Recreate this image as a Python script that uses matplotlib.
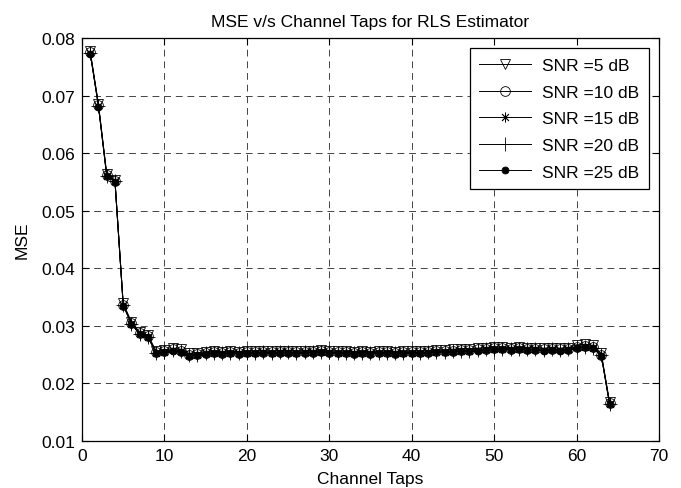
import matplotlib
matplotlib.use("Agg")
import matplotlib.pyplot as plt

plt.rcParams['font.family'] = ['Liberation Sans', 'DejaVu Sans']

taps = list(range(1, 65))

snr5 = [0.0777, 0.0685, 0.0564, 0.0553, 0.0339, 0.0307, 0.0289, 0.0284, 0.0256, 0.0258,
        0.0261, 0.0259, 0.0252, 0.0253, 0.0255, 0.0256, 0.0255, 0.0256, 0.0255, 0.0256,
        0.0256, 0.0257, 0.0256, 0.0257, 0.0257, 0.0256, 0.0257, 0.0257, 0.0258, 0.0257,
        0.0256, 0.0256, 0.0255, 0.0256, 0.0255, 0.0256, 0.0256, 0.0255, 0.0256, 0.0256,
        0.0256, 0.0257, 0.0258, 0.0258, 0.0259, 0.0260, 0.0260, 0.0261, 0.0262, 0.0263,
        0.0263, 0.0262, 0.0263, 0.0262, 0.0262, 0.0261, 0.0262, 0.0261, 0.0262, 0.0267,
        0.0268, 0.0266, 0.0252, 0.0168]
snr10 = [0.0775, 0.0683, 0.0562, 0.0552, 0.0337, 0.0305, 0.0287, 0.0282, 0.0254, 0.0256,
         0.0259, 0.0257, 0.0250, 0.0251, 0.0253, 0.0254, 0.0253, 0.0254, 0.0253, 0.0254,
         0.0254, 0.0255, 0.0254, 0.0255, 0.0255, 0.0254, 0.0255, 0.0255, 0.0256, 0.0255,
         0.0254, 0.0254, 0.0253, 0.0254, 0.0253, 0.0254, 0.0254, 0.0253, 0.0254, 0.0254,
         0.0254, 0.0255, 0.0256, 0.0256, 0.0257, 0.0258, 0.0258, 0.0259, 0.0260, 0.0261,
         0.0261, 0.0260, 0.0261, 0.0260, 0.0260, 0.0259, 0.0260, 0.0259, 0.0260, 0.0264,
         0.0265, 0.0263, 0.0250, 0.0166]
snr15 = [0.0774, 0.0682, 0.0561, 0.0551, 0.0336, 0.0304, 0.0286, 0.0281, 0.0253, 0.0255,
         0.0258, 0.0256, 0.0249, 0.0250, 0.0252, 0.0253, 0.0252, 0.0253, 0.0252, 0.0253,
         0.0253, 0.0254, 0.0253, 0.0254, 0.0254, 0.0253, 0.0254, 0.0254, 0.0255, 0.0254,
         0.0253, 0.0253, 0.0252, 0.0253, 0.0252, 0.0253, 0.0253, 0.0252, 0.0253, 0.0253,
         0.0253, 0.0254, 0.0255, 0.0255, 0.0256, 0.0257, 0.0257, 0.0258, 0.0259, 0.0260,
         0.0260, 0.0259, 0.0260, 0.0259, 0.0259, 0.0258, 0.0259, 0.0258, 0.0259, 0.0263,
         0.0264, 0.0262, 0.0249, 0.0165]
snr20 = [0.0774, 0.0682, 0.0561, 0.0551, 0.0336, 0.0304, 0.0286, 0.0281, 0.0253, 0.0255,
         0.0258, 0.0256, 0.0249, 0.0250, 0.0252, 0.0253, 0.0252, 0.0253, 0.0252, 0.0253,
         0.0253, 0.0254, 0.0253, 0.0254, 0.0254, 0.0253, 0.0254, 0.0254, 0.0255, 0.0254,
         0.0253, 0.0253, 0.0252, 0.0253, 0.0252, 0.0253, 0.0253, 0.0252, 0.0253, 0.0253,
         0.0253, 0.0254, 0.0255, 0.0255, 0.0256, 0.0257, 0.0257, 0.0258, 0.0259, 0.0260,
         0.0260, 0.0259, 0.0260, 0.0259, 0.0259, 0.0258, 0.0259, 0.0258, 0.0259, 0.0263,
         0.0264, 0.0262, 0.0249, 0.0165]
snr25 = [0.0773, 0.0681, 0.0560, 0.0550, 0.0335, 0.0303, 0.0285, 0.0280, 0.0252, 0.0254,
         0.0257, 0.0255, 0.0248, 0.0249, 0.0251, 0.0252, 0.0251, 0.0252, 0.0251, 0.0252,
         0.0252, 0.0253, 0.0252, 0.0253, 0.0253, 0.0252, 0.0253, 0.0253, 0.0254, 0.0253,
         0.0252, 0.0252, 0.0251, 0.0252, 0.0251, 0.0252, 0.0252, 0.0251, 0.0252, 0.0252,
         0.0252, 0.0253, 0.0254, 0.0254, 0.0255, 0.0256, 0.0256, 0.0257, 0.0258, 0.0259,
         0.0259, 0.0258, 0.0259, 0.0258, 0.0258, 0.0257, 0.0258, 0.0257, 0.0258, 0.0262,
         0.0263, 0.0261, 0.0248, 0.0164]

series = [snr5, snr10, snr15, snr20, snr25]
labels = ['SNR =5 dB', 'SNR =10 dB', 'SNR =15 dB', 'SNR =20 dB', 'SNR =25 dB']
markers = ['v', 'o', (8, 2, 0), '+', '.']
mfcs = ['none', 'none', 'black', 'black', 'black']
msizes = [7, 7, 7, 10, 10]

fig = plt.figure(figsize=(6.81, 4.89), dpi=100)
ax = fig.add_axes([82/681, 1 - 442/489, (659-82)/681, (442-39)/489])

for y, lab, m, fc, ms in zip(series, labels, markers, mfcs, msizes):
    ax.plot(taps, y, color='black', lw=0.7, marker=m, markersize=ms,
            markerfacecolor=fc, markeredgecolor='black', markeredgewidth=0.6,
            label=lab)

ax.set_xlim(0, 70)
ax.set_ylim(0.01, 0.08)
ax.set_xticks(range(0, 71, 10))
ax.set_yticks([0.01, 0.02, 0.03, 0.04, 0.05, 0.06, 0.07, 0.08])
ax.set_yticklabels(['0.01', '0.02', '0.03', '0.04', '0.05', '0.06', '0.07', '0.08'])
ax.grid(True, color='#444444', linestyle=(0, (7, 5)), linewidth=0.7)
ax.tick_params(direction='in', top=True, right=True, length=5, width=0.8,
               labelsize=12.5, colors='black', pad=5)
for s in ax.spines.values():
    s.set_linewidth(0.9)

ax.set_title('MSE v/s Channel Taps for RLS Estimator', fontsize=12.5, pad=9)
ax.set_xlabel('Channel Taps', fontsize=12.5, labelpad=6)
ax.set_ylabel('MSE', fontsize=12.5, labelpad=8)

leg = ax.legend(loc='upper right', fontsize=12.5, frameon=True, fancybox=False,
                edgecolor='black', framealpha=1, borderaxespad=0.6,
                handlelength=3.0, labelspacing=0.66, borderpad=0.55,
                handletextpad=0.6)
leg.get_frame().set_linewidth(0.9)

fig.savefig('out.png', dpi=100)
